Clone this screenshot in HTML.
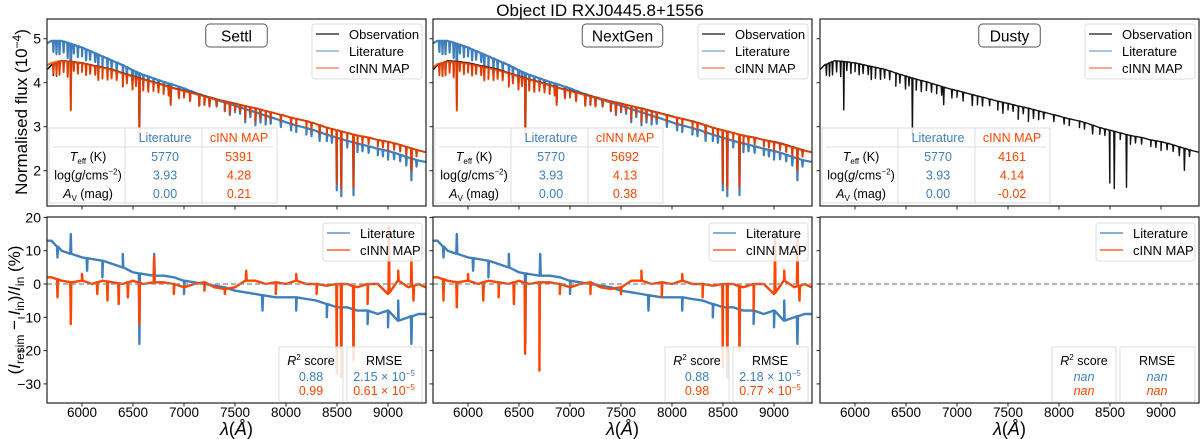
<!DOCTYPE html>
<html><head><meta charset="utf-8"><style>
body{margin:0;background:#fff;}
svg{font-family:"Liberation Sans","DejaVu Sans",sans-serif;display:block}
</style></head><body>
<svg id="fig" width="1200" height="439" viewBox="0 0 1200 439" xmlns="http://www.w3.org/2000/svg">
<text x="600" y="16" text-anchor="middle" font-size="17">Object ID RXJ0445.8+1556</text>
</svg>
<script>
const wl=[5660,5700,5800,5900,6000,6100,6200,6300,6400,6500,6600,6700,6800,6900,7000,7100,7200,7300,7400,7500,7600,7700,7800,7900,8000,8100,8200,8300,8400,8500,8600,8700,8800,8900,9000,9100,9200,9300,9370];
const obsFlux=[4.30,4.40,4.50,4.48,4.45,4.40,4.35,4.30,4.22,4.15,4.08,4.02,3.95,3.88,3.82,3.76,3.70,3.64,3.58,3.53,3.47,3.42,3.36,3.30,3.24,3.18,3.13,3.06,2.98,2.92,2.86,2.80,2.76,2.70,2.66,2.60,2.53,2.46,2.42];
const litFlux=[4.90,4.95,4.95,4.88,4.80,4.70,4.60,4.50,4.40,4.28,4.18,4.10,4.02,3.95,3.87,3.78,3.70,3.62,3.55,3.48,3.40,3.33,3.25,3.18,3.10,3.03,2.97,2.90,2.82,2.75,2.68,2.62,2.56,2.50,2.45,2.38,2.30,2.23,2.20];
const cinnSettl=[4.40,4.45,4.50,4.47,4.44,4.39,4.34,4.29,4.21,4.14,4.07,4.01,3.94,3.87,3.81,3.75,3.69,3.63,3.57,3.52,3.47,3.42,3.36,3.30,3.24,3.18,3.13,3.06,2.98,2.92,2.86,2.80,2.76,2.70,2.66,2.60,2.53,2.46,2.42];
const cinnNextGen=[4.35,4.42,4.48,4.46,4.43,4.38,4.33,4.28,4.21,4.14,4.07,4.01,3.94,3.87,3.81,3.75,3.69,3.63,3.57,3.52,3.47,3.41,3.35,3.29,3.23,3.18,3.12,3.05,2.98,2.92,2.86,2.80,2.75,2.70,2.65,2.59,2.52,2.45,2.42];
const lineWl=[5890,6563,6870,7600,7700,8498,8542,8662,9230];
const lineDepth=[1.1,1.3,0.4,0.3,0.3,1.2,1.3,1.2,0.5];
const minorWl=[5720,5750,5780,5820,5860,5920,5960,6000,6040,6080,6130,6160,6200,6250,6290,6340,6400,6440,6495,6530,6600,6650,6700,6750,6800,6850,6950,7000,7060,7150,7200,7250,7320,7400,7450,7500,7550,7650,7750,7800,7850,7950,8050,8100,8200,8250,8330,8400,8450,8600,8700,8750,8810,8900,8950,9000,9060,9120,9180,9280];
const minorDepth=[0.25,0.3,0.3,0.25,0.35,0.2,0.25,0.2,0.25,0.2,0.2,0.3,0.25,0.25,0.2,0.2,0.3,0.2,0.3,0.2,0.25,0.25,0.2,0.2,0.2,0.2,0.2,0.15,0.2,0.25,0.2,0.2,0.15,0.2,0.25,0.15,0.15,0.15,0.2,0.2,0.15,0.15,0.15,0.15,0.15,0.15,0.2,0.15,0.15,0.15,0.2,0.15,0.15,0.15,0.15,0.2,0.15,0.15,0.2,0.15];
const litRes=[13,13,10,9,8,7.5,7,6,5,3.5,3,2.5,2.5,2,1,0.5,0,-0.5,-1,-2,-2.5,-3,-3.5,-4,-4,-4,-4.5,-5,-6,-7,-7,-8,-8,-9,-8,-11,-10,-9,-9];
const cinnRes=[2,2,1,0.5,1,0,1,0.5,0,1,0,0.5,0.5,0,-1,0,0.5,-1,-1.5,-1,1,1,0,0.5,0,1,0,0,-0.5,0,0,-1,0,0,-3,1,-1,0,-1];
const litResSpikeWl=[5760,5890,6050,6200,6400,6563,6708,7000,7770,8100,8400,8542,8662,8800,9000,9100,9230];
const litResSpikeVal=[8,15,4,2,9,-18,9,-3,-8,-8,-10,-28,-20,-12,-13,-5,-18];
const cinnResSpikeWl=[5760,5890,6000,6150,6250,6360,6450,6563,6708,6900,7200,7400,7610,7900,8100,8300,8498,8542,8662,8800,9010,9100,9230,9250];
const cinnResSpikeVal=[-4,-12,3,-3,-5,-6,-4,-12,8,-3,-2,-3,4,-3,3,-3,-27,-27,-23,-6,17,4,8,-5];
const cinnResSpikeWl2=[5760,5890,6000,6150,6300,6450,6560,6700,6900,7200,7500,7700,7900,8100,8300,8498,8542,8662,8800,9010,9100,9230,9250];
const cinnResSpikeVal2=[-5,-7,3,-5,-4,-6,-21,-26,-3,-3,-3,4,-4,3,-4,-25,-24,-20,-8,15,4,14,-5];
const xTicks=[6000,6500,7000,7500,8000,8500,9000];
const yTopTicks=[2,3,4,5];
const yBotTicks=[-30,-20,-10,0,10,20];
const tableRows=[["T_eff (K)","5770","5391","5692","4161"],["log(g/cms-2)","3.93","4.28","4.13","4.14"],["A_V (mag)","0.00","0.21","0.38","-0.02"]];
const panelTitles=["Settl","NextGen","Dusty"];
const r2Lit=["0.88","0.88","nan"],r2Cinn=["0.99","0.98","nan"];
const rmseLit=["2.15","2.18","nan"],rmseCinn=["0.61","0.77","nan"];

const BLUE="#3f7fbf",ORG="#ff4500",NS="http://www.w3.org/2000/svg";
const svg=document.getElementById('fig');
const lefts=[47,433,820],W=379,TOP0=19,TOP1=206,BOT0=217,BOT1=403;
function X(i,l){return lefts[i]+(l-5657)*0.102;}
function Yt(v){return 38.7+(5-v)*44;}
function Yb(r){return 284-r*3.33;}
function el(tag,attrs,parent){const e=document.createElementNS(NS,tag);for(const k in attrs)e.setAttribute(k,attrs[k]);(parent||svg).appendChild(e);return e;}
function interp(xs,ys,x){if(x<=xs[0])return ys[0];for(let i=1;i<xs.length;i++){if(x<=xs[i]){const t=(x-xs[i-1])/(xs[i]-xs[i-1]);return ys[i-1]+t*(ys[i]-ys[i-1]);}}return ys[ys.length-1];}
function buildPts(base,dipsW,dipsV,dipsW2,dipsV2,sign){
  let pts=[];wl.forEach((w,k)=>pts.push([w,base[k]]));
  const add=(ws,vs,abs)=>ws.forEach((w,k)=>{const c=interp(wl,base,w);pts.push([w-5,c]);pts.push([w,abs?vs[k]:c-vs[k]*sign]);pts.push([w+5,c]);});
  add(dipsW,dipsV,sign===0);if(dipsW2)add(dipsW2,dipsV2,sign===0);
  pts.sort((a,b)=>a[0]-b[0]);return pts;}
function text(x,y,s,attrs,name){const t=el('text',Object.assign({x:x,y:y,'font-size':13},attrs||{}));t.innerHTML=s;
  
  return t;}
function pathD(i,pts,yf){return pts.map((p,k)=>(k?'L':'M')+X(i,p[0]).toFixed(1)+','+yf(p[1]).toFixed(1)).join('');}

for(let i=0;i<3;i++){
  const L=lefts[i];
  const cp=el('clipPath',{id:'ct'+i});el('rect',{x:L,y:TOP0,width:W,height:TOP1-TOP0},cp);
  const cb=el('clipPath',{id:'cb'+i});el('rect',{x:L,y:BOT0,width:W,height:BOT1-BOT0},cb);
  const gt=el('g',{'clip-path':'url(#ct'+i+')'});
  
  let e;
  if(i<2){
    const lit=buildPts(litFlux,lineWl,lineDepth,minorWl,minorDepth,1);
    e=el('path',{d:pathD(i,lit,Yt),fill:'none',stroke:BLUE,'stroke-width':2.2,'stroke-linejoin':'round'},gt);
    
  }
  const obs=buildPts(obsFlux,lineWl,lineDepth,minorWl,minorDepth,1);
  e=el('path',{d:pathD(i,obs,Yt),fill:'none',stroke:'#111','stroke-width':i<2?1.6:1.4,'stroke-linejoin':'round'},gt);
  
  if(i<2){
    const c=buildPts(i===0?cinnSettl:cinnNextGen,lineWl,lineDepth,minorWl,minorDepth,1);
    e=el('path',{d:pathD(i,c,Yt),fill:'none',stroke:ORG,'stroke-width':2,opacity:0.85,'stroke-linejoin':'round'},gt);
    
  }
  const gb=el('g',{'clip-path':'url(#cb'+i+')'});
  
  if(i<2){
    const lr=buildPts(litRes,litResSpikeWl,litResSpikeVal,null,null,0);
    e=el('path',{d:pathD(i,lr,Yb),fill:'none',stroke:BLUE,'stroke-width':2.4,'stroke-linejoin':'round'},gb);
    
    const cr=buildPts(cinnRes,i===0?cinnResSpikeWl:cinnResSpikeWl2,i===0?cinnResSpikeVal:cinnResSpikeVal2,null,null,0);
    e=el('path',{d:pathD(i,cr,Yb),fill:'none',stroke:ORG,'stroke-width':2.4,'stroke-linejoin':'round'},gb);
    
  }
  e=el('line',{x1:L,x2:L+W,y1:Yb(0),y2:Yb(0),stroke:'#888','stroke-width':1.3,'stroke-dasharray':'5,3'});
  
  e=el('rect',{x:L,y:TOP0,width:W,height:TOP1-TOP0,fill:'none',stroke:'#222','stroke-width':1.2});
  
  e=el('rect',{x:L,y:BOT0,width:W,height:BOT1-BOT0,fill:'none',stroke:'#222','stroke-width':1.2});
  
  xTicks.forEach(t=>{const x=X(i,t);
    el('line',{x1:x,x2:x,y1:TOP1,y2:TOP1+3.5,stroke:'#222'});
    el('line',{x1:x,x2:x,y1:BOT1,y2:BOT1+3.5,stroke:'#222'});
    text(x,417,t,{'text-anchor':'middle','font-size':13.5},'x-tick-label');});
  yTopTicks.forEach(t=>{el('line',{x1:L-3.5,x2:L,y1:Yt(t),y2:Yt(t),stroke:'#222'});
    if(i===0)text(L-6,Yt(t)+5,t,{'text-anchor':'end','font-size':14},'y-tick-label');});
  yBotTicks.forEach(t=>{el('line',{x1:L-3.5,x2:L,y1:Yb(t),y2:Yb(t),stroke:'#222'});
    if(i===0)text(L-6,Yb(t)+5,t===0?'0':(t<0?'\u2212'+(-t):t),{'text-anchor':'end','font-size':14},'y-tick-label');});
  text(L+W/2,435,'<tspan font-style="italic">λ</tspan>(<tspan font-style="italic">Å</tspan>)',{'text-anchor':'middle','font-size':18},'x-axis-title');
  const tw=panelTitles[i].length*9.5+14;
  e=el('rect',{x:L+W/2-tw/2,y:24,width:tw,height:23,rx:4,fill:'#fff',stroke:'#555'});
  
  text(L+W/2,41.5,panelTitles[i],{'text-anchor':'middle','font-size':15.5},'panel-title');
  const lx=L+W-114;
  e=el('rect',{x:lx,y:24,width:110,height:55,rx:3,fill:'#fff','fill-opacity':0.8,stroke:'#ddd'});
  
  [['Observation','#111'],['Literature',BLUE],['cINN MAP',ORG]].forEach((r,k)=>{
    el('line',{x1:lx+4,x2:lx+27,y1:34+k*17,y2:34+k*17,stroke:r[1],'stroke-width':1.5,opacity:k?0.6:0.8});
    text(lx+37,39+k*17,r[0],{'font-size':13},'legend-entry');});
  const tx=L+2;
  e=el('rect',{x:tx,y:128,width:228,height:75,fill:'#fff','fill-opacity':0.85,stroke:'#ddd'});
  
  el('line',{x1:tx+76,x2:tx+76,y1:128,y2:203,stroke:'#ddd'});
  el('line',{x1:tx+153,x2:tx+153,y1:128,y2:203,stroke:'#ddd'});
  el('line',{x1:tx+4,x2:tx+224,y1:147,y2:147,stroke:'#ddd'});
  text(tx+116,142,'Literature',{'text-anchor':'middle','font-size':12.5,fill:BLUE},'table-header');
  text(tx+190,142,'cINN MAP',{'text-anchor':'middle','font-size':12.5,fill:ORG},'table-header');
  const labels=['<tspan font-style="italic">T</tspan><tspan font-size="8" dy="3">eff</tspan><tspan dy="-3"> (K)</tspan>','log(<tspan font-style="italic">g</tspan>/cms<tspan font-size="8" dy="-5">−2</tspan><tspan dy="5">)</tspan>','<tspan font-style="italic">A</tspan><tspan font-size="8" dy="3">V</tspan><tspan dy="-3"> (mag)</tspan>'];
  tableRows.forEach((r,k)=>{const y=161+k*18.5;
    text(tx+39,y,labels[k],{'text-anchor':'middle','font-size':12.5},'table-row-label');
    text(tx+116,y,r[1],{'text-anchor':'middle','font-size':12.5,fill:BLUE},'table-literature-value');
    text(tx+190,y,r[2+i],{'text-anchor':'middle','font-size':12.5,fill:ORG},'table-cinn-value');});
  const bx=L+W-103;
  e=el('rect',{x:bx,y:223,width:99,height:38,rx:3,fill:'#fff','fill-opacity':0.8,stroke:'#ddd'});
  
  [['Literature',BLUE],['cINN MAP',ORG]].forEach((r,k)=>{
    el('line',{x1:bx+4,x2:bx+27,y1:233+k*17,y2:233+k*17,stroke:r[1],'stroke-width':1.3});
    text(bx+37,238+k*17,r[0],{'font-size':13},'legend-entry');});
  const sx=L+W-147;
  e=el('rect',{x:sx,y:347,width:64,height:55,fill:'#fff','fill-opacity':0.85,stroke:'#ddd'});
  
  e=el('rect',{x:sx+68,y:347,width:75,height:55,fill:'#fff','fill-opacity':0.85,stroke:'#ddd'});
  
  text(sx+32,365,'<tspan font-style="italic">R</tspan><tspan font-size="8" dy="-5">2</tspan><tspan dy="5"> score</tspan>',{'text-anchor':'middle','font-size':12.5},'r2-title');
  text(sx+105,365,'RMSE',{'text-anchor':'middle','font-size':12.5},'rmse-title');
  const it=i===2?{'font-style':'italic'}:{};
  text(sx+32,381,r2Lit[i],Object.assign({'text-anchor':'middle','font-size':12.5,fill:BLUE},it),'r2-literature');
  text(sx+32,395,r2Cinn[i],Object.assign({'text-anchor':'middle','font-size':12.5,fill:ORG},it),'r2-cinn');
  const sci=v=>i===2?v:v+' × 10<tspan font-size="8" dy="-5">−5</tspan>';
  text(sx+105,381,sci(rmseLit[i]),Object.assign({'text-anchor':'middle','font-size':12.5,fill:BLUE},it),'rmse-literature');
  text(sx+105,395,sci(rmseCinn[i]),Object.assign({'text-anchor':'middle','font-size':12.5,fill:ORG},it),'rmse-cinn');
}
text(27,112,'Normalised flux (10<tspan font-size="12" dy="-6">−4</tspan><tspan dy="6">)</tspan>',{'text-anchor':'middle','font-size':17,transform:'rotate(-90 27 112)'},'y-axis-title-top');
text(20,310,'(<tspan font-style="italic">I</tspan><tspan font-size="12" dy="4">resim</tspan><tspan dy="-4"> − </tspan><tspan font-style="italic">I</tspan><tspan font-size="12" dy="4">in</tspan><tspan dy="-4">)/</tspan><tspan font-style="italic">I</tspan><tspan font-size="12" dy="4">in</tspan><tspan dy="-4"> (%)</tspan>',{'text-anchor':'middle','font-size':17,transform:'rotate(-90 20 310)'},'y-axis-title-bottom');
</script>
</body></html>
